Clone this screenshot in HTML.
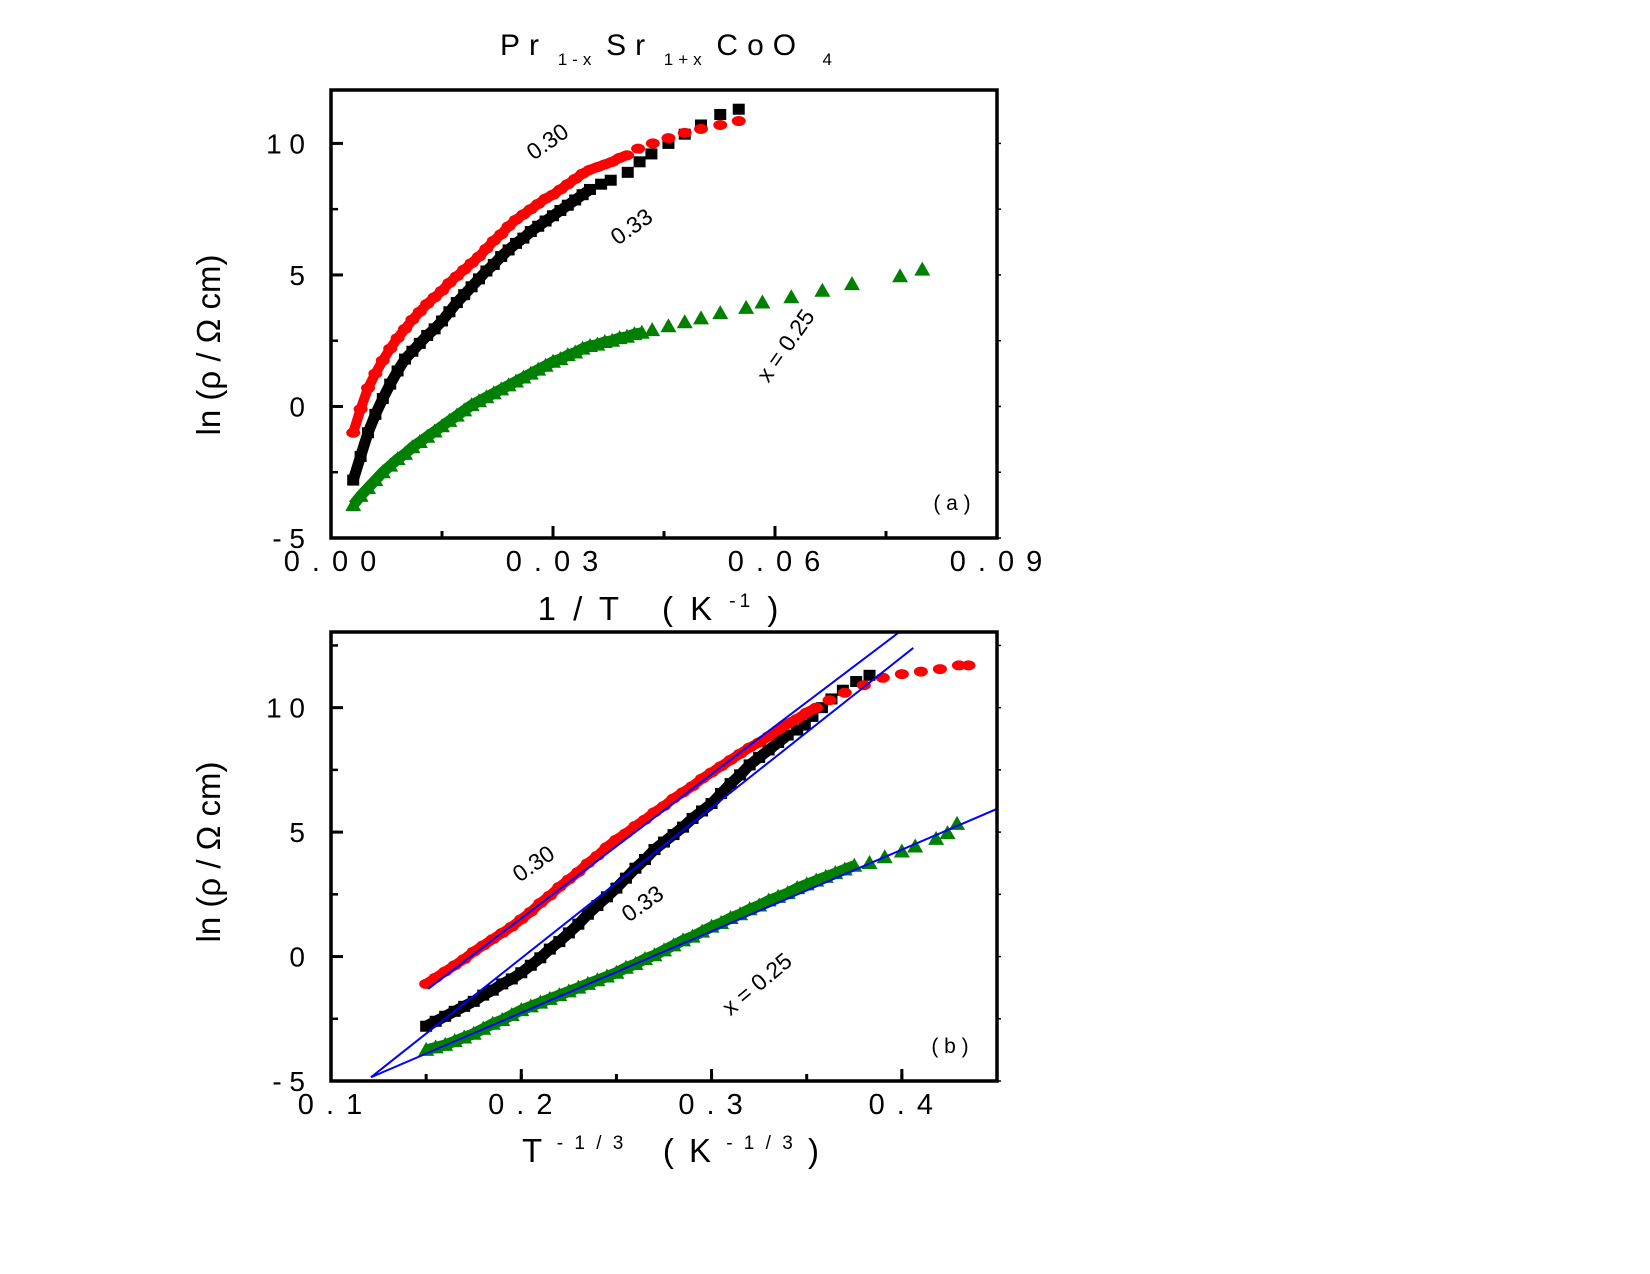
<!DOCTYPE html>
<html><head><meta charset="utf-8"><style>
html,body{margin:0;padding:0;background:#fff;}
svg{display:block;font-family:"Liberation Sans",sans-serif;}
</style></head><body>
<svg id="chart" width="1650" height="1274" viewBox="0 0 1650 1274" xmlns="http://www.w3.org/2000/svg">
<defs>
<clipPath id="clipB"><rect x="331" y="632" width="666" height="449"/></clipPath>
</defs>
<text x="500" y="55" font-size="30" letter-spacing="9">Pr<tspan font-size="17" dy="10" letter-spacing="5"> 1-x </tspan><tspan dy="-10">Sr</tspan><tspan font-size="17" dy="10" letter-spacing="5"> 1+x </tspan><tspan dy="-10">CoO </tspan><tspan font-size="17" dy="10"> 4</tspan></text>
<g id="panelA"></g>
<g id="panelB"></g>
</svg>
<script>
// ---- Panel (a) data: 1/T vs ln rho ----
const aRedX=[0.003,0.004,0.005,0.006,0.007,0.008,0.009,0.010,0.011,0.012,0.013,0.014,0.015,0.016,0.017,0.018,0.019,0.020,0.021,0.022,0.023,0.024,0.025,0.026,0.027,0.028,0.029,0.030,0.031,0.032,0.033,0.034,0.035,0.036,0.037,0.038,0.039,0.040,0.0415,0.0435,0.0456,0.0478,0.050,0.0526,0.0551];
const aRedY=[-1.0,-0.1,0.7,1.25,1.75,2.2,2.6,2.95,3.3,3.6,3.9,4.15,4.4,4.7,4.95,5.2,5.45,5.7,6.0,6.3,6.55,6.85,7.1,7.3,7.5,7.7,7.9,8.05,8.25,8.45,8.65,8.85,9.0,9.1,9.2,9.3,9.45,9.55,9.8,10.0,10.2,10.4,10.55,10.7,10.85];
const aBlkX=[0.003,0.004,0.005,0.006,0.007,0.008,0.009,0.010,0.011,0.012,0.013,0.014,0.015,0.016,0.017,0.018,0.019,0.020,0.021,0.022,0.023,0.024,0.025,0.026,0.027,0.028,0.029,0.030,0.031,0.032,0.033,0.034,0.035,0.0365,0.0378,0.0401,0.0417,0.0433,0.0456,0.0478,0.050,0.0526,0.0551];
const aBlkY=[-2.8,-1.9,-1.0,-0.3,0.3,0.85,1.35,1.8,2.1,2.4,2.7,2.95,3.25,3.6,3.95,4.25,4.55,4.85,5.15,5.4,5.7,5.95,6.2,6.4,6.65,6.85,7.05,7.25,7.45,7.65,7.85,8.05,8.25,8.45,8.6,8.9,9.3,9.6,10.0,10.35,10.7,11.1,11.3];
const aGrnX=[0.003,0.004,0.005,0.006,0.007,0.008,0.009,0.010,0.011,0.012,0.013,0.014,0.015,0.016,0.017,0.018,0.019,0.020,0.021,0.022,0.023,0.024,0.025,0.026,0.027,0.028,0.029,0.030,0.031,0.032,0.033,0.034,0.035,0.036,0.037,0.038,0.039,0.040,0.041,0.042,0.0434,0.0456,0.0478,0.050,0.0526,0.0561,0.0583,0.0622,0.0664,0.0704,0.0769,0.0799];
const aGrnY=[-3.75,-3.4,-3.1,-2.8,-2.5,-2.25,-2.0,-1.8,-1.55,-1.35,-1.15,-0.95,-0.75,-0.55,-0.35,-0.15,0.05,0.2,0.35,0.5,0.65,0.8,0.95,1.1,1.25,1.4,1.55,1.7,1.8,1.95,2.05,2.2,2.3,2.35,2.45,2.5,2.6,2.65,2.75,2.8,2.9,3.05,3.2,3.35,3.55,3.75,3.95,4.15,4.4,4.65,4.95,5.2];
const aXTicks=[0,0.03,0.06,0.09];
const aXTickLabels=["0 . 0 0","0 . 0 3","0 . 0 6","0 . 0 9"];
const aYTicks=[-5,0,5,10];
const aYTickLabels=["- 5","0","5","1 0"];
// ---- Panel (b) data: T^-1/3 vs ln rho ----
const bRedX=[0.150,0.155,0.160,0.165,0.170,0.175,0.180,0.185,0.190,0.195,0.200,0.205,0.210,0.215,0.220,0.225,0.230,0.235,0.240,0.245,0.250,0.255,0.260,0.265,0.270,0.275,0.280,0.285,0.290,0.295,0.300,0.305,0.310,0.315,0.320,0.325,0.330,0.335,0.340,0.345,0.350,0.355,0.362,0.370,0.380,0.390,0.400,0.410,0.420,0.430,0.435];
const bRedY=[-1.1,-0.85,-0.6,-0.35,-0.1,0.2,0.45,0.7,0.95,1.2,1.5,1.8,2.15,2.45,2.8,3.1,3.4,3.75,4.05,4.4,4.7,4.95,5.25,5.5,5.8,6.05,6.35,6.6,6.85,7.15,7.4,7.65,7.9,8.15,8.4,8.6,8.85,9.1,9.35,9.55,9.8,10.0,10.3,10.6,10.9,11.2,11.35,11.45,11.55,11.7,11.7];
const bBlkX=[0.150,0.155,0.160,0.165,0.170,0.175,0.180,0.185,0.190,0.195,0.200,0.205,0.210,0.215,0.220,0.225,0.230,0.235,0.240,0.245,0.250,0.255,0.260,0.265,0.270,0.275,0.280,0.285,0.290,0.295,0.300,0.305,0.310,0.315,0.320,0.325,0.330,0.335,0.340,0.345,0.349,0.353,0.358,0.363,0.369,0.376,0.383];
const bBlkY=[-2.8,-2.6,-2.4,-2.2,-2.0,-1.8,-1.55,-1.35,-1.1,-0.9,-0.65,-0.35,-0.05,0.3,0.6,0.95,1.3,1.7,2.05,2.4,2.75,3.15,3.55,3.9,4.3,4.6,4.9,5.2,5.55,5.85,6.15,6.55,6.95,7.3,7.7,8.0,8.3,8.6,8.9,9.1,9.3,9.65,10.0,10.35,10.7,11.05,11.3];
const bGrnX=[0.150,0.155,0.160,0.165,0.170,0.175,0.180,0.185,0.190,0.195,0.200,0.205,0.210,0.215,0.220,0.225,0.230,0.235,0.240,0.245,0.250,0.255,0.260,0.265,0.270,0.275,0.280,0.285,0.290,0.295,0.300,0.305,0.310,0.315,0.320,0.325,0.330,0.335,0.340,0.345,0.350,0.355,0.360,0.365,0.370,0.375,0.383,0.391,0.400,0.407,0.418,0.424,0.429];
const bGrnY=[-3.75,-3.65,-3.55,-3.4,-3.25,-3.1,-2.9,-2.7,-2.55,-2.35,-2.15,-2.0,-1.85,-1.7,-1.55,-1.4,-1.25,-1.1,-0.95,-0.8,-0.65,-0.45,-0.3,-0.1,0.05,0.25,0.45,0.65,0.8,1.0,1.2,1.35,1.55,1.7,1.9,2.05,2.25,2.4,2.55,2.75,2.9,3.05,3.2,3.35,3.5,3.65,3.76,3.99,4.22,4.42,4.73,4.96,5.33];
const fitNames=["fit-x030","fit-x033","fit-x025"];
const fitX0=[0.151,0.121,0.121];
const fitY0=[-1.3,-4.85,-4.85];
const fitX1=[0.398,0.406,0.452];
const fitY1=[13.0,12.4,6.0];
const bXTicks=[0.1,0.2,0.3,0.4];
const bXTickLabels=["0 . 1","0 . 2","0 . 3","0 . 4"];
const bYTicks=[-5,0,5,10];
const bYTickLabels=["- 5","0","5","1 0"];

const NS="http://www.w3.org/2000/svg";
function mk(parent,tag,attrs){const e=document.createElementNS(NS,tag);for(const k in attrs)e.setAttribute(k,attrs[k]);parent.appendChild(e);return e;}

const A={x0:331,x1:997,y0:90,y1:538,xmin:0,xmax:0.09,ymin:-5,ymax:12.03};
const B={x0:331,x1:997,y0:632,y1:1081,xmin:0.1,xmax:0.45,ymin:-5,ymax:13.04};
function sx(P,v){return P.x0+(v-P.xmin)/(P.xmax-P.xmin)*(P.x1-P.x0);}
function sy(P,v){return P.y1-(v-P.ymin)/(P.ymax-P.ymin)*(P.y1-P.y0);}

const colors={circle:"#ff0000",square:"#000000",tri:"#008000"};
const bandW={circle:10,square:11,tri:11};
function marker(g,P,kind,x,y){
  const cx=sx(P,x),cy=sy(P,y);let e;
  if(kind==="circle"){e=mk(g,"ellipse",{cx:cx,cy:cy,rx:7,ry:5,fill:"#ff0000"});}
  else if(kind==="square"){e=mk(g,"rect",{x:cx-6,y:cy-5.5,width:12,height:11,fill:"#000"});}
  else {e=mk(g,"polygon",{points:(cx-8)+","+(cy+6)+" "+(cx+8)+","+(cy+6)+" "+cx+","+(cy-8),fill:"#008000"});}
  return e;
}
function series(root,P,xs,ys,kind,name,bandEnd){
  const g=mk(root,"g",{});
  
  
  let pts=[];
  for(let i=0;i<xs.length;i++){ if(xs[i]<=bandEnd) pts.push(sx(P,xs[i]).toFixed(1)+","+sy(P,ys[i]).toFixed(1)); }
  if(pts.length>1){
    const b=mk(g,"polyline",{points:pts.join(" "),fill:"none",stroke:colors[kind],"stroke-width":bandW[kind],"stroke-linejoin":"round"});
    
    
  }
  for(let i=0;i<xs.length;i++){
    const m=marker(g,P,kind,xs[i],ys[i]);
    
    
  }
}
function axes(root,P,xt,xl,yt,yl,xMinorStep,prefix){
  const g=mk(root,"g",{});
  
  
  for(let v=P.xmin;v<=P.xmax+1e-9;v+=xMinorStep){const X=sx(P,v);mk(g,"line",{x1:X,x2:X,y1:P.y1,y2:P.y1-7,stroke:"#000","stroke-width":3});}
  for(let i=0;i<xt.length;i++){
    const X=sx(P,xt[i]);
    mk(g,"line",{x1:X,x2:X,y1:P.y1,y2:P.y1-12,stroke:"#000","stroke-width":3});
    const t=mk(g,"text",{x:X,y:P.y1+33,"font-size":29,"text-anchor":"middle","letter-spacing":2});
    t.textContent=xl[i];
    
    
  }
  for(let v=P.ymin;v<=P.ymax;v+=2.5){const Y=sy(P,v);
    mk(g,"line",{x1:P.x0,x2:P.x0+7,y1:Y,y2:Y,stroke:"#000","stroke-width":2.5});
    mk(g,"line",{x1:P.x1,x2:P.x1+4,y1:Y,y2:Y,stroke:"#000","stroke-width":1.5});}
  for(let i=0;i<yt.length;i++){
    const Y=sy(P,yt[i]);
    mk(g,"line",{x1:P.x0,x2:P.x0+12,y1:Y,y2:Y,stroke:"#000","stroke-width":3});
    const t=mk(g,"text",{x:P.x0-26,y:Y+10,"font-size":28,"text-anchor":"end"});
    t.textContent=yl[i];
    
    
  }
  const f=mk(g,"rect",{x:P.x0,y:P.y0,width:P.x1-P.x0,height:P.y1-P.y0,fill:"none",stroke:"#000","stroke-width":3.5});
  
  
}
function label(root,x,y,rot,txt,name,size,weight){
  const t=mk(root,"text",{x:x,y:y,"font-size":size,"text-anchor":"middle",transform:"rotate("+rot+" "+x+" "+y+")"});
  if(weight)t.setAttribute("font-weight",weight);
  t.textContent=txt;
  
  
  return t;
}

const ga=document.getElementById("panelA");
series(ga,A,aGrnX,aGrnY,"tri","series-x025-a",0.042);
series(ga,A,aBlkX,aBlkY,"square","series-x033-a",0.035);
series(ga,A,aRedX,aRedY,"circle","series-x030-a",0.040);
axes(ga,A,aXTicks,aXTickLabels,aYTicks,aYTickLabels,0.015,"panel-a");
label(ga,552,148,-35,"0.30","label-030-a",23);
label(ga,636,233,-35,"0.33","label-033-a",23);
label(ga,792,350,-55,"x = 0.25","label-025-a",23);
label(ga,952,510,0,"( a )","panel-a-tag",21);
label(ga,220,345,-90,"ln (ρ / Ω cm)","panel-a-y-title",33);
const ta=mk(ga,"text",{x:660,y:620,"font-size":33,"text-anchor":"middle","letter-spacing":4});
ta.innerHTML='1 / T &#160; ( K <tspan font-size="19" dy="-13">-1</tspan><tspan dy="13"> )</tspan>';



const gb=document.getElementById("panelB");
series(gb,B,bGrnX,bGrnY,"tri","series-x025-b",0.375);
series(gb,B,bBlkX,bBlkY,"square","series-x033-b",0.340);
series(gb,B,bRedX,bRedY,"circle","series-x030-b",0.355);
const fg=mk(gb,"g",{"clip-path":"url(#clipB)"});
for(let i=0;i<fitX0.length;i++){
  const l=mk(fg,"line",{x1:sx(B,fitX0[i]),y1:sy(B,fitY0[i]),x2:sx(B,fitX1[i]),y2:sy(B,fitY1[i]),stroke:"#0000ff","stroke-width":2});
  
  
}
axes(gb,B,bXTicks,bXTickLabels,bYTicks,bYTickLabels,0.05,"panel-b");
label(gb,538,870,-35,"0.30","label-030-b",23);
label(gb,647,910,-35,"0.33","label-033-b",23);
label(gb,762,990,-40,"x = 0.25","label-025-b",23);
label(gb,950,1053,0,"( b )","panel-b-tag",21);
label(gb,220,852,-90,"ln (ρ / Ω cm)","panel-b-y-title",33);
const tb=mk(gb,"text",{x:672,y:1162,"font-size":33,"text-anchor":"middle","letter-spacing":3});
tb.innerHTML='T <tspan font-size="19" dy="-13">- 1 / 3</tspan><tspan dy="13"> &#160; ( K </tspan><tspan font-size="19" dy="-13">- 1 / 3</tspan><tspan dy="13"> )</tspan>';


</script>
</body></html>
